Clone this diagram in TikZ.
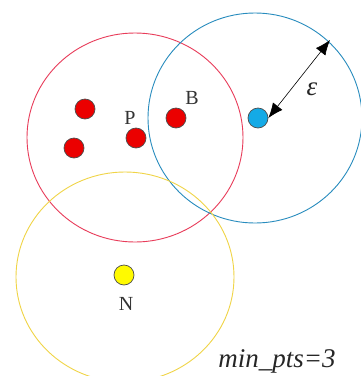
\documentclass[tikz,border=0pt]{standalone}
\usepackage{fontspec}
\setmainfont{Liberation Serif}
\usetikzlibrary{arrows.meta}
\definecolor{ringred}{RGB}{232,60,90}
\definecolor{ringblue}{RGB}{40,140,190}
\definecolor{ringyellow}{RGB}{240,212,70}
\definecolor{dotred}{RGB}{235,0,0}
\definecolor{dotblue}{RGB}{20,170,230}
\definecolor{dotyellow}{RGB}{255,250,0}
\tikzset{
  ring/.style={line width=0.9pt},
  dot/.style={circle, draw=black!70, line width=0.7pt, minimum size=20pt, inner sep=0pt},
  lab/.style={font=\fontsize{20}{21}\selectfont, inner sep=0pt, text=black!80},
  biglab/.style={font=\fontsize{27}{28}\selectfont\itshape, inner sep=0pt, text=black!85}
}
\begin{document}
\begin{tikzpicture}[x=1pt,y=-1pt]
\useasboundingbox (0,0) rectangle (361,376);
\fill[white] (0,0) rectangle (361,376);
\clip (0,0) rectangle (361,376);
\draw[ring, ringred] (135,137.5) ellipse [x radius=108, y radius=104.5];
\draw[ring, ringblue] (255,118) ellipse [x radius=107, y radius=105];
\draw[ring, ringyellow] (125,277) ellipse [x radius=109, y radius=105];
\node[dot, fill=dotred] (r1) at (85,109) {};
\node[dot, fill=dotred] (r2) at (74,148) {};
\node[dot, fill=dotred] (p) at (136,138) {};
\node[dot, fill=dotred] (b) at (176,118) {};
\node[dot, fill=dotblue] (c) at (258,118) {};
\node[dot, fill=dotyellow] (n) at (124,275) {};
\node[lab] (pl) at (130,118) {P};
\node[lab] (bl) at (192,98) {B};
\node[lab] (nl) at (126,304) {N};
\coordinate (e) at (330,40);
\draw[line width=0.6pt, {Latex[length=15pt,width=12pt]}-{Latex[length=15pt,width=12pt]}] (c.east) -- (e);
\node[biglab] (eps) at (312,89) {ε};
\node[biglab] (mp) at (277,361) {min\_pts=3};
\end{tikzpicture}
\end{document}
